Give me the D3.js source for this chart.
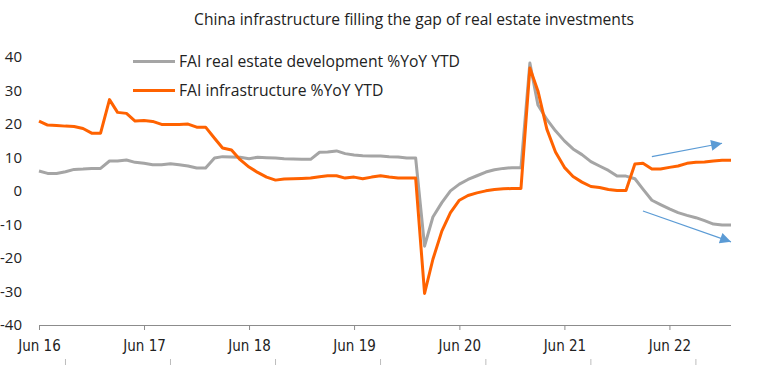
<!DOCTYPE html>
<html>
<head>
<meta charset="utf-8">
<script src="https://cdn.jsdelivr.net/npm/d3@7"></script>
<style>
  html, body { margin: 0; padding: 0; background: #fff; }
  svg { display: block; }
</style>
</head>
<body>
<svg id="chart" width="759" height="365"></svg>
<script>
// ---- data ----
const title = "China infrastructure filling the gap of real estate investments";
const seriesNames = ["FAI real estate development %YoY YTD", "FAI infrastructure %YoY YTD"];
const months = [
  "2016-06","2016-07","2016-08","2016-09","2016-10","2016-11","2016-12",
  "2017-01","2017-02","2017-03","2017-04","2017-05","2017-06","2017-07","2017-08","2017-09","2017-10","2017-11","2017-12",
  "2018-01","2018-02","2018-03","2018-04","2018-05","2018-06","2018-07","2018-08","2018-09","2018-10","2018-11","2018-12",
  "2019-01","2019-02","2019-03","2019-04","2019-05","2019-06","2019-07","2019-08","2019-09","2019-10","2019-11","2019-12",
  "2020-01","2020-02","2020-03","2020-04","2020-05","2020-06","2020-07","2020-08","2020-09","2020-10","2020-11","2020-12",
  "2021-01","2021-02","2021-03","2021-04","2021-05","2021-06","2021-07","2021-08","2021-09","2021-10","2021-11","2021-12",
  "2022-01","2022-02","2022-03","2022-04","2022-05","2022-06","2022-07","2022-08","2022-09","2022-10","2022-11","2022-12",
  "2023-01"
];
const realEstate = [
  5.9, 5.2, 5.2, 5.7, 6.4, 6.5, 6.7,
  6.7, 8.9, 8.9, 9.2, 8.5, 8.2, 7.8, 7.8, 8.1, 7.8, 7.4, 6.8,
  6.8, 9.8, 10.2, 10.1, 10.0, 9.6, 10.0, 9.9, 9.8, 9.6, 9.5, 9.4,
  9.4, 11.5, 11.6, 11.9, 11.1, 10.7, 10.5, 10.4, 10.4, 10.2, 10.1, 9.8,
  9.8, -16.5, -7.8, -3.5, 0.0, 2.0, 3.4, 4.5, 5.6, 6.3, 6.7, 6.9,
  6.9, 38.1, 25.6, 21.3, 17.9, 14.9, 12.5, 10.8, 8.7, 7.4, 6.1, 4.4,
  4.4, 3.6, 0.5, -2.8, -4.1, -5.4, -6.5, -7.3, -8.0, -8.9, -9.9, -10.2,
  -10.2
];
const infrastructure = [
  20.8, 19.6, 19.5, 19.3, 19.2, 18.6, 17.2,
  17.2, 27.2, 23.4, 23.1, 20.8, 21.0, 20.7, 19.8, 19.8, 19.8, 19.9, 19.0,
  19.0, 15.7, 12.8, 12.2, 9.3, 7.1, 5.5, 4.1, 3.2, 3.5, 3.6, 3.7,
  3.8, 4.2, 4.5, 4.5, 3.8, 4.1, 3.6, 4.1, 4.5, 4.1, 3.8, 3.8,
  3.8, -30.6, -20.4, -12.0, -6.5, -2.8, -1.4, -0.6, 0.0, 0.4, 0.6, 0.7,
  0.7, 36.6, 29.8, 18.4, 11.6, 7.0, 4.3, 2.6, 1.3, 1.0, 0.4, 0.1,
  0.1, 8.0, 8.2, 6.5, 6.5, 7.0, 7.4, 8.2, 8.5, 8.6, 8.9, 9.1,
  9.1
];
const yTicks = [-40, -30, -20, -10, 0, 10, 20, 30, 40];
const xTickMonths = ["2016-06","2017-06","2018-06","2019-06","2020-06","2021-06","2022-06"];
// trend arrows (annotation), in data space: [month, value] -> [month, value]
const arrowUp = [["2022-04", 10.2], ["2022-12", 14.2]];
const arrowDown = [["2022-03", -6.0], ["2023-01", -15.2]];

// ---- setup ----
const parse = d3.timeParse("%Y-%m");
const fmt = d3.timeFormat("%b %y");
const svg = d3.select("#chart");
const mLeft = 39, mRight = 731, mTop = 56.7, mBottom = 325;

const x = d3.scaleTime()
  .domain([parse(months[0]), parse(months[months.length - 1])])
  .range([mLeft, mRight]);
const y = d3.scaleLinear().domain([-40, 40]).range([mBottom, mTop]);

const colors = ["#A5A5A5", "#FF6200"];
const arrowColor = "#5B9BD5";
const font = "'Open Sans', 'Noto Sans', sans-serif";

// title
svg.append("text")
  .attr("x", 414).attr("y", 25)
  .attr("text-anchor", "middle")
  .attr("font-family", font)
  .attr("font-size", 15.6)
  .attr("fill", "#222")
  .text(title);

// y axis labels
const yAxis = d3.axisLeft(y).tickValues(yTicks).tickSize(0).tickPadding(0).tickFormat(d => String(d));
const gy = svg.append("g").attr("transform", "translate(22,0)").call(yAxis);
gy.select(".domain").remove();
gy.selectAll("text")
  .attr("font-family", font)
  .attr("font-size", 15)
  .attr("fill", "#222");

// x axis
const xAxis = d3.axisBottom(x)
  .tickValues(xTickMonths.map(parse))
  .tickSize(5)
  .tickPadding(10)
  .tickFormat(fmt);
const gx = svg.append("g").attr("transform", `translate(0,${mBottom})`).call(xAxis);
gx.select(".domain").attr("stroke", "#8c8c8c").attr("d", `M${mLeft},0.5H${mRight}`);
gx.selectAll(".tick line").attr("stroke", "#8c8c8c");
gx.selectAll("text")
  .attr("font-family", "'Liberation Sans Narrow', 'DejaVu Sans Condensed', 'Roboto Condensed', sans-serif")
  .attr("font-size", 15)
  .attr("fill", "#222");

// faint ticks at bottom edge (between year labels)
const xBottomTicks = xTickMonths.map(m => d3.timeMonth.offset(parse(m), 3));
svg.append("g").selectAll("line").data(xBottomTicks).join("line")
  .attr("x1", d => x(d)).attr("x2", d => x(d))
  .attr("y1", 359).attr("y2", 365)
  .attr("stroke", "#bdbdbd").attr("stroke-width", 1);

// lines
const dates = months.map(parse);
const line = d3.line().x((d, i) => x(dates[i])).y(d => y(d));
[realEstate, infrastructure].forEach((s, k) => {
  svg.append("path")
    .datum(s)
    .attr("fill", "none")
    .attr("stroke", colors[k])
    .attr("stroke-width", 3)
    .attr("stroke-linejoin", "round")
    .attr("d", line);
});

// legend
const legendY = [61.5, 90.5];
seriesNames.forEach((n, k) => {
  svg.append("line")
    .attr("x1", 133).attr("x2", 175)
    .attr("y1", legendY[k]).attr("y2", legendY[k])
    .attr("stroke", colors[k]).attr("stroke-width", 3);
  svg.append("text")
    .attr("x", 179).attr("y", legendY[k])
    .attr("dy", "0.35em")
    .attr("font-family", font)
    .attr("font-size", 15.7)
    .attr("fill", "#222")
    .text(n);
});

// arrows
const defs = svg.append("defs");
defs.append("marker")
  .attr("id", "arrowhead")
  .attr("viewBox", "0 0 10 10")
  .attr("refX", 10).attr("refY", 5)
  .attr("markerWidth", 12).attr("markerHeight", 11)
  .attr("markerUnits", "userSpaceOnUse")
  .attr("orient", "auto")
  .append("path").attr("d", "M0,0L10,5L0,10Z").attr("fill", arrowColor);
[arrowUp, arrowDown].forEach(a => {
  svg.append("line")
    .attr("x1", x(parse(a[0][0]))).attr("y1", y(a[0][1]))
    .attr("x2", x(parse(a[1][0]))).attr("y2", y(a[1][1]))
    .attr("stroke", arrowColor).attr("stroke-width", 1.2)
    .attr("marker-end", "url(#arrowhead)");
});
</script>
</body>
</html>
